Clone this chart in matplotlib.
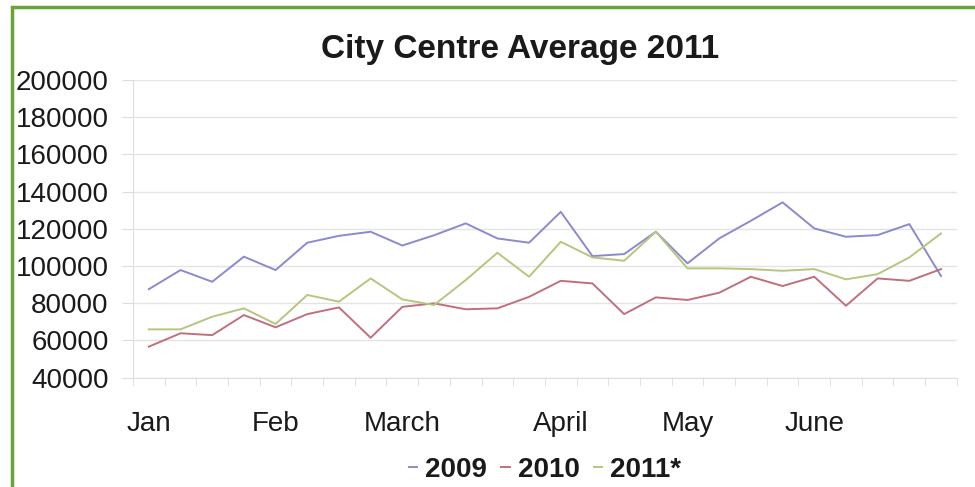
import matplotlib
matplotlib.use("Agg")
import matplotlib.pyplot as plt
from matplotlib.patches import Rectangle

plt.rcParams['font.family'] = ['Liberation Sans', 'DejaVu Sans']

# Half-monthly averages, Jan to June
periods = list(range(26))
month_labels = {0: 'Jan', 4: 'Feb', 8: 'March', 13: 'April', 17: 'May', 21: 'June'}

avg_2009 = [87500, 97800, 91500, 105000, 97800, 112500, 116200, 118400, 111000,
            116500, 122900, 114800, 112500, 129100, 105300, 106400, 118400, 101400,
            114800, 124300, 134200, 120200, 115700, 116600, 122500, 94600]
avg_2010 = [56600, 63800, 62800, 73600, 67000, 74100, 77700, 61400, 78000,
            79900, 76700, 77200, 83400, 92000, 90600, 74100, 83100, 81700,
            85600, 94200, 89200, 94200, 78600, 93300, 92000, 98300]
avg_2011 = [65900, 65900, 72700, 77200, 68800, 84400, 80800, 93300, 82000,
            79000, 92400, 107100, 94200, 113000, 104600, 102800, 118400, 98700,
            98700, 98300, 97400, 98300, 92800, 95600, 104600, 117500]

fig = plt.figure(figsize=(9.75, 4.87), dpi=100)
ax = fig.add_axes([0.1364, 0.2248, 0.845, 0.6109])

ax.plot(periods, avg_2009, color='#8a8ad0', lw=1.4, label='2009')
ax.plot(periods, avg_2010, color='#c0707c', lw=1.4, label='2010')
ax.plot(periods, avg_2011, color='#b6c67e', lw=1.4, label='2011*')

ax.set_xlim(-0.5, 25.5)
ax.set_ylim(40000, 200000)
ax.set_yticks(range(40000, 200001, 20000))
ax.yaxis.grid(True, color='#e4e4e4', lw=1)
ax.set_axisbelow(True)

ax.set_xticks(list(month_labels.keys()))
ax.set_xticklabels(list(month_labels.values()))
ax.set_xticks([i - 0.5 for i in range(27)], minor=True)
ax.tick_params(axis='x', which='major', length=0, pad=24, labelsize=20, labelcolor='#1a1a1a')
ax.tick_params(axis='x', which='minor', length=6, color='#dddddd', direction='out')
ax.tick_params(axis='y', length=8, color='#dddddd', pad=9.5, labelsize=20, labelcolor='#1a1a1a')

for side in ['top', 'right']:
    ax.spines[side].set_visible(False)
for side in ['left', 'bottom']:
    ax.spines[side].set_color('#dddddd')

fig.text(0.533, 0.899, 'City Centre Average 2011', ha='center', va='center',
         fontsize=24, fontweight='bold', color='#1a1a1a')

leg = fig.legend(loc='center', bbox_to_anchor=(0.559, 0.035), ncol=3, frameon=False,
                 handlelength=0.3, handletextpad=0.3, columnspacing=0.5,
                 prop={'size': 20, 'weight': 'bold'})
for t in leg.get_texts():
    t.set_color('#1a1a1a')

# green frame around the chart
fig.patches.append(Rectangle((0.0118, -0.1), 1.1, 1.0855, transform=fig.transFigure,
                             fill=False, edgecolor='#6aa33a', lw=2.5))

fig.savefig('out.png', dpi=100)
